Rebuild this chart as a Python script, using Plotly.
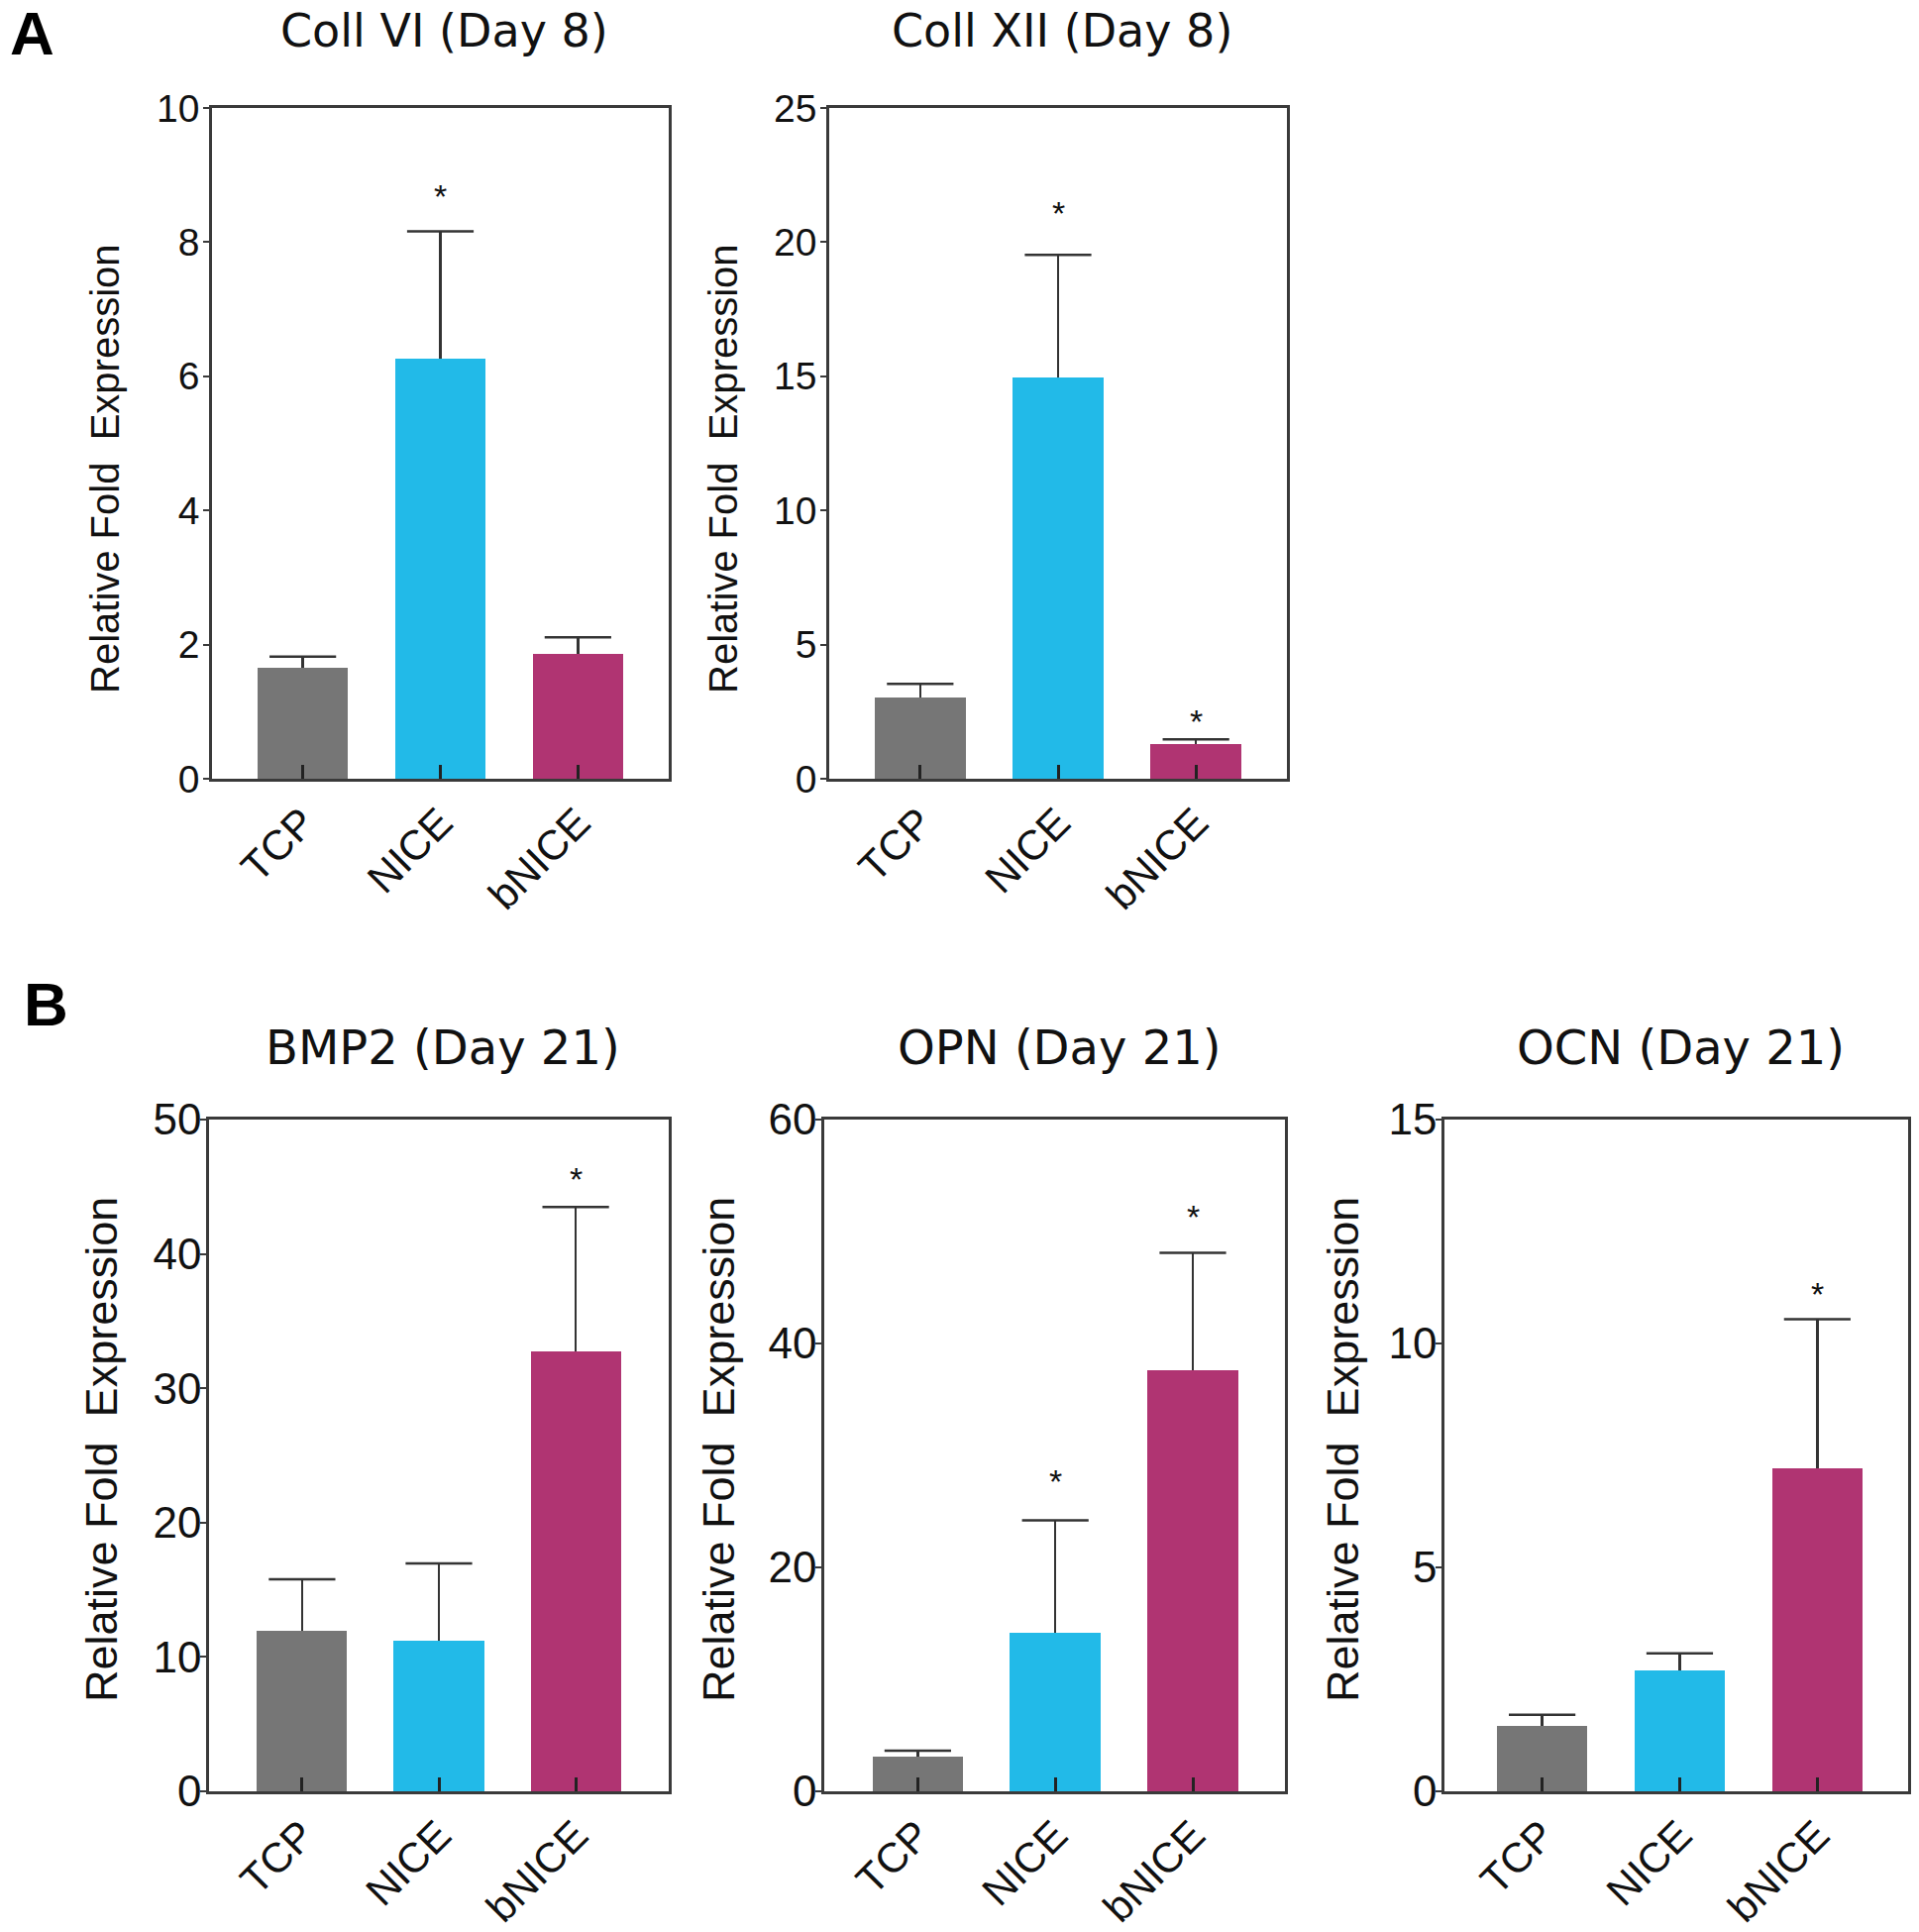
import plotly.graph_objects as go

# ---------------- data ----------------
categories = ["TCP", "NICE", "bNICE"]
bar_colors = ["#767676", "#22BAE8", "#B03472"]

titles = ["Coll VI (Day 8)", "Coll XII (Day 8)", "BMP2 (Day 21)", "OPN (Day 21)", "OCN (Day 21)"]
y_title = "Relative Fold  Expression"

coll6_mean = [1.65, 6.27, 1.86]
coll6_top = [1.82, 8.16, 2.11]
coll6_star = [None, 8.73, None]

coll12_mean = [3.03, 14.94, 1.29]
coll12_top = [3.54, 19.53, 1.47]
coll12_star = [None, 21.2, 2.25]

bmp2_mean = [11.93, 11.19, 32.75]
bmp2_top = [15.78, 16.97, 43.5]
bmp2_star = [None, None, 45.8]

opn_mean = [3.08, 14.2, 37.65]
opn_top = [3.63, 24.2, 48.1]
opn_star = [None, 28.0, 51.6]

ocn_mean = [1.46, 2.70, 7.21]
ocn_top = [1.71, 3.08, 10.54]
ocn_star = [None, None, 11.17]

y_max = [10, 25, 50, 60, 15]
y_dtick = [2, 5, 10, 20, 5]

means = [coll6_mean, coll12_mean, bmp2_mean, opn_mean, ocn_mean]
tops = [coll6_top, coll12_top, bmp2_top, opn_top, ocn_top]
stars = [coll6_star, coll12_star, bmp2_star, opn_star, ocn_star]

# ---------------- layout geometry (pixels of a 1937 x 1950 page) ----------------
W, H = 1937, 1950
boxes = [  # left, right, top, bottom
    (214, 675, 109, 786),
    (837, 1299, 109, 786),
    (211, 675, 1130, 1808),
    (832, 1297, 1130, 1808),
    (1458, 1926, 1130, 1808),
]
x_ranges = [(-0.66, 2.66), (-0.66, 2.66), (-0.68, 2.68), (-0.68, 2.67), (-0.71, 2.66)]
title_y = [31, 31, 1057, 1057, 1057]
title_size = [46, 46, 48, 48, 48]
ytitle_pos = [(106, 473), (730, 473), (102, 1463), (725, 1463), (1355, 1463)]
ytitle_size = [40, 40, 45, 45, 45]
ytick_size = [39, 39, 44, 44, 44]
ytick_standoff = [-4, -4, -10, -10, -10]

AX_COLOR = "#3a3a3a"
ERR_COLOR = "#333333"
TEXT = "#111111"
SANS = "Liberation Sans, Arial, sans-serif"

fig = go.Figure()
annotations = []

for i in range(5):
    xa = "x" if i == 0 else f"x{i+1}"
    ya = "y" if i == 0 else f"y{i+1}"
    l, r, t, b = boxes[i]
    dom_x = [l / W, r / W]
    dom_y = [1 - b / H, 1 - t / H]
    err_plus = [tp - m for tp, m in zip(tops[i], means[i])]

    fig.add_trace(go.Bar(
        x=categories, y=means[i], xaxis=xa, yaxis=ya,
        width=0.66,
        marker=dict(color=bar_colors, line=dict(width=0)),
        error_y=dict(type="data", symmetric=False, array=err_plus,
                     arrayminus=[0, 0, 0], width=0,
                     thickness=2.5, color=ERR_COLOR),
        showlegend=False, hoverinfo="skip",
    ))
    # caps of the error bars
    fig.add_trace(go.Scatter(
        x=categories, y=tops[i], xaxis=xa, yaxis=ya, mode="markers",
        marker=dict(symbol="line-ew", size=48, color=ERR_COLOR,
                    line=dict(width=2.5, color=ERR_COLOR)),
        showlegend=False, hoverinfo="skip",
    ))
    # significance stars
    for c, s in zip(categories, stars[i]):
        if s is not None:
            annotations.append(dict(
                x=c, y=s, xref=xa, yref=ya, text="*", showarrow=False,
                font=dict(family=SANS, size=34, color=TEXT),
                yanchor="middle", xanchor="center", yshift=-3,
            ))

    axis_common = dict(showline=True, linecolor=AX_COLOR, linewidth=2.5,
                       mirror=True, showgrid=False, zeroline=False,
                       automargin=False)
    fig.update_layout(**{
        ("xaxis" if i == 0 else f"xaxis{i+1}"): dict(
            domain=dom_x, anchor=ya, type="category",
            range=list(x_ranges[i]),
            ticks="inside", ticklen=14, tickwidth=3, tickcolor="#222222",
            tickangle=-45,
            tickfont=dict(family=SANS, size=42, color=TEXT),
            **axis_common),
        ("yaxis" if i == 0 else f"yaxis{i+1}"): dict(
            domain=dom_y, anchor=xa, range=[0, y_max[i]], dtick=y_dtick[i],
            ticks="outside", ticklen=6, tickwidth=2, tickcolor=AX_COLOR,
            ticklabelstandoff=ytick_standoff[i],
            tickfont=dict(family=SANS, size=ytick_size[i], color=TEXT),
            **axis_common),
    })

    # subplot title
    annotations.append(dict(
        x=(dom_x[0] + dom_x[1]) / 2 + 4 / W, y=1 - title_y[i] / H,
        xref="paper", yref="paper", text=titles[i], showarrow=False,
        font=dict(family="DejaVu Sans", size=title_size[i], color=TEXT),
        xanchor="center", yanchor="middle",
    ))
    # y-axis title
    px, py = ytitle_pos[i]
    annotations.append(dict(
        x=px / W, y=1 - py / H, xref="paper", yref="paper", text=y_title,
        showarrow=False, textangle=-90, xanchor="center", yanchor="middle",
        font=dict(family=SANS, size=ytitle_size[i], color=TEXT),
    ))

# panel letters
annotations.append(dict(x=8 / W, y=1 + 3 / H, xref="paper", yref="paper", text="<b>A</b>",
                        showarrow=False, xanchor="left", yanchor="top",
                        font=dict(family=SANS, size=62, color="#000000")))
annotations.append(dict(x=22 / W, y=1 - 977 / H, xref="paper", yref="paper", text="<b>B</b>",
                        showarrow=False, xanchor="left", yanchor="top",
                        font=dict(family=SANS, size=62, color="#000000")))

fig.update_layout(
    width=W, height=H, autosize=False,
    margin=dict(l=0, r=0, t=0, b=0, pad=0, autoexpand=False),
    paper_bgcolor="white", plot_bgcolor="white",
    annotations=annotations,
    bargap=0,
)

fig.write_html("out.html", config={"displayModeBar": False},
               post_script="document.body.style.margin='0';")
